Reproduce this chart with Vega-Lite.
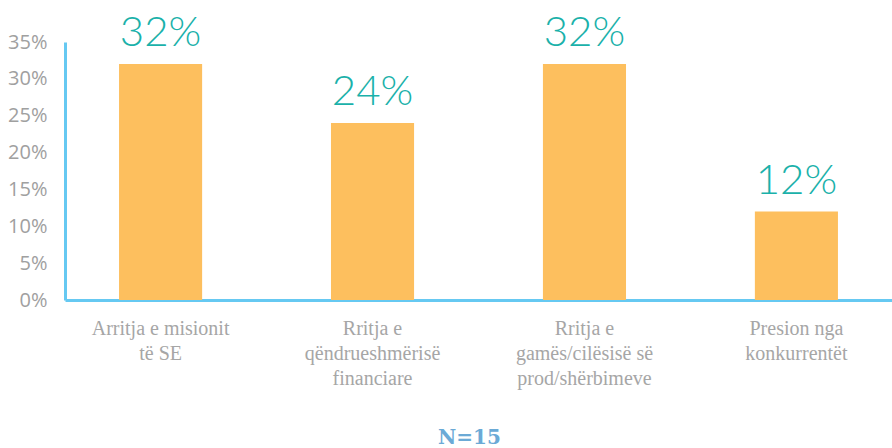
{
  "$schema": "https://vega.github.io/schema/vega-lite/v6.json",
  "width": 827,
  "height": 258,
  "autosize": {"type": "none"},
  "padding": {"left": 65, "top": 42, "right": 0, "bottom": 148},
  "background": "white",
  "data": {
    "values": [
      {"cat": "Arritja e misionit|të SE", "value": 32, "label": "32%"},
      {"cat": "Rritja e|qëndrueshmërisë|financiare", "value": 24, "label": "24%"},
      {"cat": "Rritja e|gamës/cilësisë së|prod/shërbimeve", "value": 32, "label": "32%"},
      {"cat": "Presion nga|konkurrentët", "value": 12, "label": "12%"}
    ]
  },
  "title": {
    "text": "N=15",
    "orient": "bottom",
    "anchor": "middle",
    "dx": -9,
    "offset": 40,
    "font": "DejaVu Serif",
    "fontSize": 20,
    "fontWeight": "bold",
    "color": "#6BAAD6"
  },
  "config": {
    "view": {"stroke": null},
    "axis": {"grid": false, "ticks": false}
  },
  "encoding": {
    "x": {
      "field": "cat",
      "type": "nominal",
      "sort": null,
      "scale": {"paddingInner": 0.608, "paddingOuter": 0.255},
      "axis": {
        "title": null,
        "labelAngle": 0,
        "labelExpr": "split(datum.label, '|')",
        "labelFont": "Liberation Serif",
        "labelFontSize": 20,
        "labelColor": "#A6A6A6",
        "labelLineHeight": 25,
        "labelPadding": 18,
        "labelBaseline": "top",
        "domainColor": "#66C9F2",
        "domainWidth": 3
      }
    },
    "y": {
      "field": "value",
      "type": "quantitative",
      "scale": {"domain": [0, 35]},
      "axis": {
        "title": null,
        "values": [0, 5, 10, 15, 20, 25, 30, 35],
        "labelExpr": "datum.value + '%'",
        "labelFont": "Open Sans",
        "labelFontSize": 20,
        "labelColor": "#A0A0A0",
        "labelPadding": 18,
        "domainColor": "#66C9F2",
        "domainWidth": 3
      }
    }
  },
  "layer": [
    {"mark": {"type": "bar", "color": "#FDBF5E"}},
    {
      "mark": {
        "type": "text",
        "color": "#1AB1AA",
        "font": "Lato",
        "fontSize": 42,
        "fontWeight": 300,
        "baseline": "alphabetic",
        "dy": -18
      },
      "encoding": {"text": {"field": "label"}}
    }
  ]
}
